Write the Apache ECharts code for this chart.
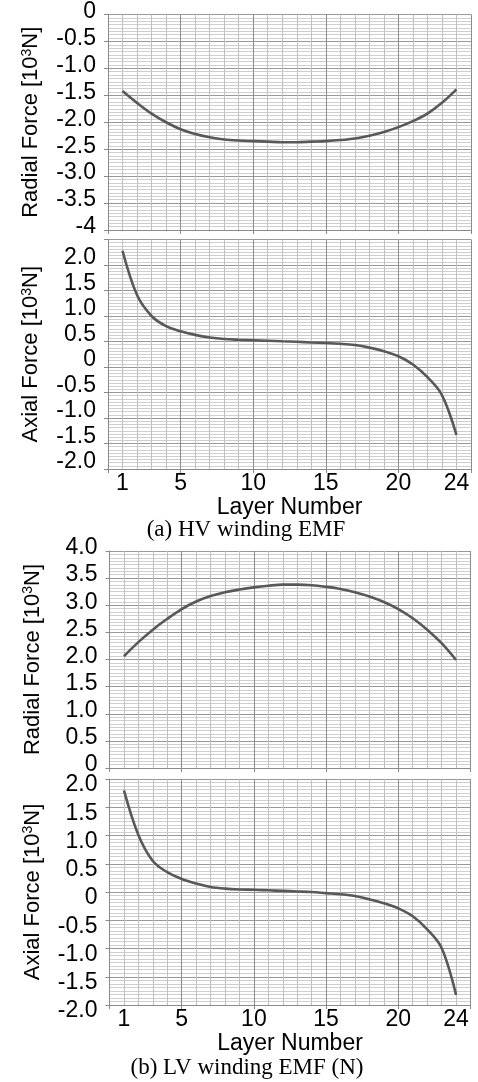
<!DOCTYPE html>
<html><head><meta charset="utf-8">
<script src="https://cdn.jsdelivr.net/npm/echarts@6/dist/echarts.min.js"></script>
<style>html,body{margin:0;padding:0;background:#fff}#c{width:478px;height:1082px}</style>
</head><body><div id="c"></div><script>
const layers = [1,2,3,4,5,6,7,8,9,10,11,12,13,14,15,16,17,18,19,20,21,22,23,24];
const hvRadial = [-1.42,-1.64,-1.84,-2.00,-2.13,-2.22,-2.28,-2.32,-2.34,-2.35,-2.36,-2.37,-2.37,-2.36,-2.35,-2.33,-2.30,-2.25,-2.18,-2.09,-1.98,-1.84,-1.64,-1.39];
const hvAxial = [2.28,1.41,1.00,0.80,0.70,0.63,0.58,0.55,0.535,0.525,0.515,0.505,0.495,0.48,0.47,0.455,0.43,0.38,0.31,0.21,0.05,-0.20,-0.55,-1.33];
const lvRadial = [2.06,2.32,2.55,2.75,2.93,3.07,3.17,3.24,3.29,3.33,3.36,3.38,3.38,3.37,3.34,3.30,3.24,3.16,3.06,2.93,2.76,2.55,2.30,1.99];
const lvAxial = [1.80,1.01,0.55,0.35,0.23,0.15,0.09,0.06,0.045,0.04,0.03,0.02,0.01,0.00,-0.02,-0.04,-0.07,-0.13,-0.20,-0.29,-0.43,-0.66,-0.99,-1.82];
const xTickLabels = [1,5,10,15,20,24];
const xAxisTitle = 'Layer Number';
const yNames = ['Radial Force', 'Axial Force', 'Radial Force', 'Axial Force'];
const captions = ['(a) HV winding EMF', '(b) LV winding EMF (N)'];
const yRanges = [[-4,0],[-2,2.5],[0,4],[-2,2]];
const hiddenYLabels = [[],[2.5],[],[]];
const seriesList = [hvRadial, hvAxial, lvRadial, lvAxial];

const SANS = 'Liberation Sans';
const grids = [
  {left:108, top:10, width:363, height:220},
  {left:108, top:239.5, width:363, height:229.5},
  {left:109.5, top:551, width:361, height:217},
  {left:109.5, top:779, width:361, height:226}
];
const showX = [false, true, false, true];
const labelVA = [['bottom', 6], ['bottom', 14], ['bottom', 6], ['top', 12]];

const fmtY = (hidden) => (v) => {
  if (hidden.some(h => Math.abs(h - v) < 1e-9)) return '';
  if (Math.abs(v) < 1e-9) return '0';
  if (v < -3.9) return String(Math.round(v));
  return v.toFixed(1);
};

const xAxes = grids.map((g, i) => ({
  type: 'value', gridIndex: i, min: 0, max: 25, interval: 5,
  axisLine: {show: true, onZero: false, lineStyle: {color: '#8a8a8a', width: 1}},
  axisTick: {show: true, length: 4, inside: false, lineStyle: {color: '#8a8a8a'}},
  minorTick: {show: false, splitNumber: 5},
  splitLine: {show: true, lineStyle: {color: '#8c8c8c', width: 1}},
  minorSplitLine: {show: true, lineStyle: {color: '#c0c0c0', width: 1}},
  axisLabel: showX[i] ? {show: true, customValues: xTickLabels, margin: 3, color: '#000', fontFamily: SANS, fontSize: 23} : {show: false},
  name: showX[i] ? xAxisTitle : '',
  nameLocation: 'middle', nameGap: 20,
  nameTextStyle: {color: '#000', fontFamily: SANS, fontSize: 23}
}));

const yAxes = grids.map((g, i) => ({
  type: 'value', gridIndex: i, min: yRanges[i][0], max: yRanges[i][1], interval: 0.5,
  axisLine: {show: true, lineStyle: {color: '#8a8a8a', width: 1}},
  axisTick: {show: true, length: 4, lineStyle: {color: '#8a8a8a'}},
  minorTick: {show: false, splitNumber: 8},
  splitLine: {show: true, lineStyle: {color: '#999999', width: 1}},
  minorSplitLine: {show: true, lineStyle: {color: '#cfcfcf', width: 1}},
  axisLabel: {show: true, margin: 12, color: '#000', fontFamily: SANS, fontSize: 23,
    verticalAlign: labelVA[i][0], lineHeight: labelVA[i][1], formatter: fmtY(hiddenYLabels[i])},
  name: yNames[i] + ' [10{sup|3}N]',
  nameLocation: 'middle', nameRotate: 90, nameGap: 66,
  nameTextStyle: {color: '#000', fontFamily: SANS, fontSize: 22,
    rich: {sup: {fontFamily: SANS, fontSize: 14, verticalAlign: 'top', color: '#000'}}}
}));

const series = seriesList.map((vals, i) => ({
  type: 'line', xAxisIndex: i, yAxisIndex: i,
  data: layers.map((l, k) => [l, vals[k]]),
  smooth: 0.35, showSymbol: false, symbol: 'none',
  lineStyle: {color: '#585858', width: 2.6},
  z: 5
}));

const chart = echarts.init(document.getElementById('c'), null, {renderer: 'canvas'});
chart.setOption({
  animation: false,
  backgroundColor: '#fff',
  grid: grids.map(g => Object.assign({containLabel: false}, g)),
  xAxis: xAxes,
  yAxis: yAxes,
  series: series,
  graphic: [
    {type: 'text', x: 246, y: 530, style: {text: captions[0], fontFamily: 'Liberation Serif', fontSize: 23, fill: '#000', align: 'center', verticalAlign: 'middle'}},
    {type: 'text', x: 247, y: 1068, style: {text: captions[1], fontFamily: 'Liberation Serif', fontSize: 23, fill: '#000', align: 'center', verticalAlign: 'middle'}}
  ]
});
</script></body></html>
